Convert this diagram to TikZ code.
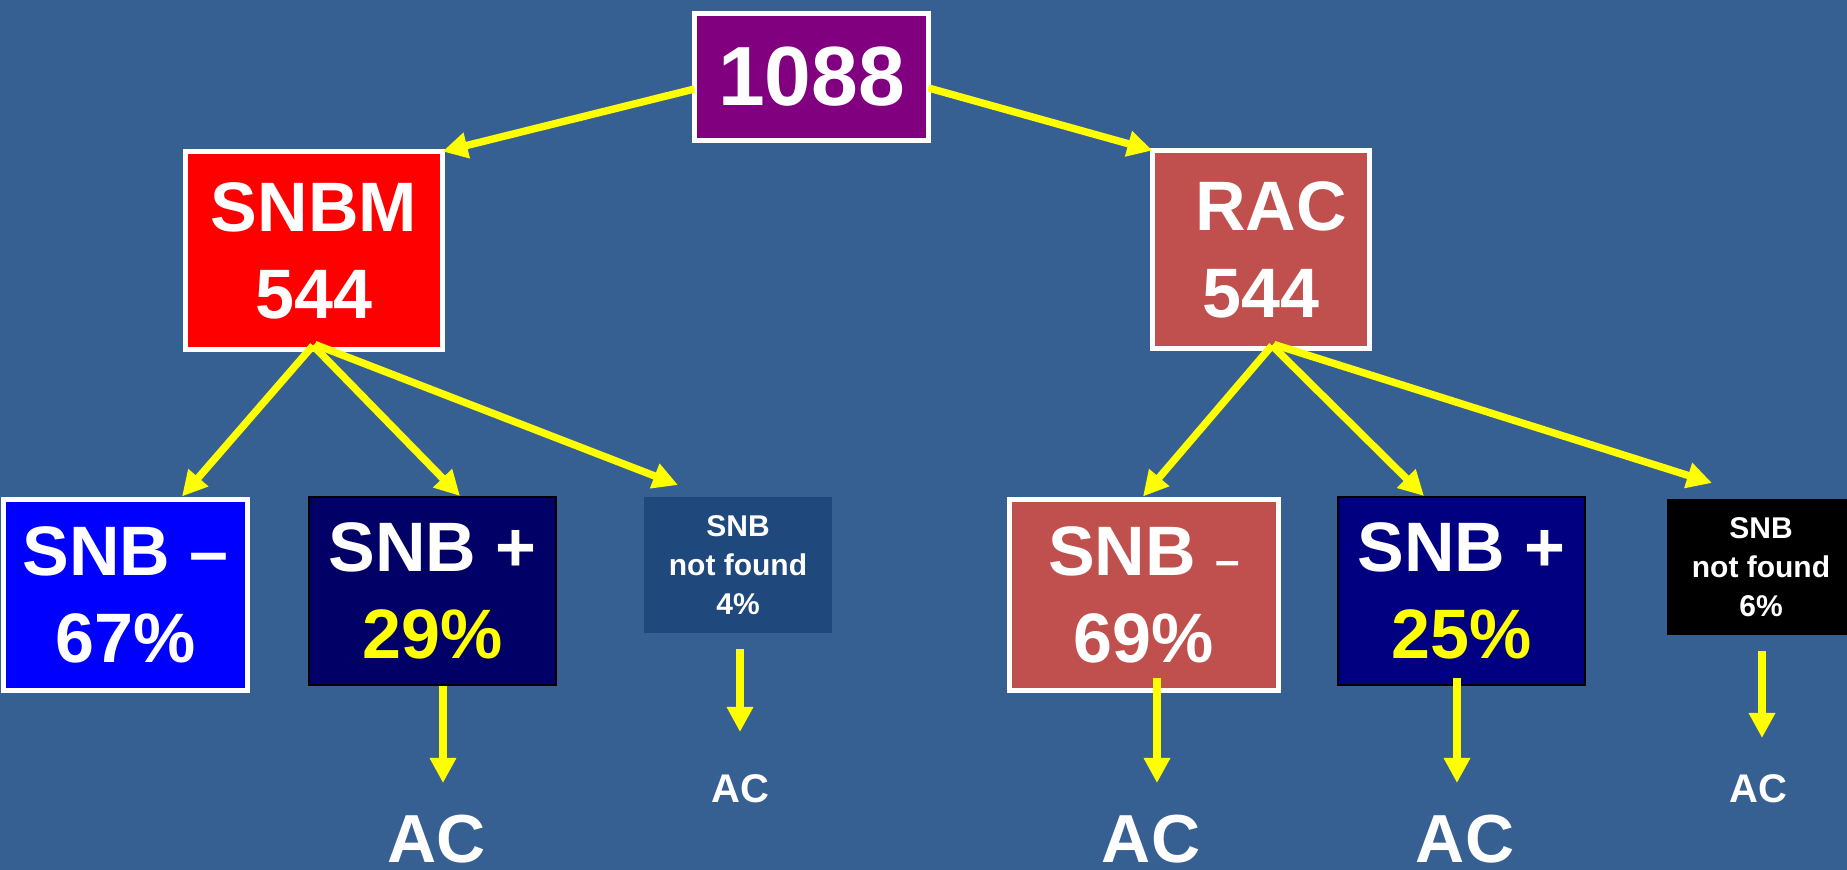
\documentclass[tikz,border=0pt]{standalone}
\usepackage{fontspec}
\setmainfont{Liberation Sans}
\usetikzlibrary{arrows.meta,calc}
\definecolor{bg}{RGB}{55,96,146}
\definecolor{topfill}{RGB}{128,0,128}
\definecolor{racred}{RGB}{192,80,77}
\definecolor{navyA}{RGB}{0,0,102}
\definecolor{navyB}{RGB}{0,0,128}
\definecolor{nfblue}{RGB}{31,73,125}
\definecolor{arrowyellow}{RGB}{255,255,0}
\begin{document}
\begin{tikzpicture}[x=0.5pt,y=-0.5pt,
  box/.style={rectangle, inner sep=0pt, outer sep=0pt, align=center, text=white},
  wbox/.style={box, draw=white, line width=2.5pt},
  kbox/.style={box, draw=black, line width=1pt},
  bigtxt/.style={font=\fontsize{35}{43.5}\selectfont\bfseries},
  toptxt/.style={font=\fontsize{42}{50}\selectfont\bfseries},
  smalltxt/.style={font=\fontsize{15}{19.5}\selectfont\bfseries},
  acbig/.style={inner sep=0pt, text=white, anchor=base, font=\fontsize{34}{40}\selectfont\bfseries},
  acsmall/.style={inner sep=0pt, text=white, anchor=base, font=\fontsize{20}{24}\selectfont\bfseries},
  arr/.style={draw=arrowyellow, fill=arrowyellow, line width=3.7pt, -{Triangle[length=12.5pt,width=12.5pt]}}
]
\useasboundingbox (0,0) rectangle (1847,870);
\fill[bg] (0,0) rectangle (1847,870);

% boxes
\node[wbox, fill=topfill, minimum width=117pt, minimum height=63.5pt, toptxt] (top) at (811.5,77) {1088};
\node[wbox, fill=red, minimum width=128.5pt, minimum height=99pt, bigtxt] (snbm) at (314,250.5) {SNBM\\544};
\node[wbox, fill=racred, minimum width=108.5pt, minimum height=99pt, bigtxt] (rac) at (1261,249.5) {\hspace*{10pt}RAC\\544};
\node[wbox, fill=blue, minimum width=122pt, minimum height=95.5pt, bigtxt] (neg1) at (125.5,595) {SNB \textendash\\67\%};
\node[kbox, fill=navyA, minimum width=123.5pt, minimum height=94pt, bigtxt] (pos1) at (432.5,591) {SNB +\\\textcolor{arrowyellow}{29\%}};
\node[box, fill=nfblue, minimum width=94pt, minimum height=68pt, smalltxt] (nf1) at (738,565) {SNB\\not found\\4\%};
\node[wbox, fill=racred, minimum width=134.5pt, minimum height=95.5pt, bigtxt] (neg2) at (1144,595) {SNB {\fontsize{22}{22}\selectfont\textendash}\\69\%};
\node[kbox, fill=navyB, minimum width=123.5pt, minimum height=94pt, bigtxt] (pos2) at (1461.5,591) {SNB +\\\textcolor{arrowyellow}{25\%}};
\node[box, fill=black, minimum width=94pt, minimum height=68pt, smalltxt] (nf2) at (1761,567) {SNB\\not found\\6\%};

% AC labels
\node[acbig] (ac1) at (437,863) {AC};
\node[acsmall] (ac2) at (740,802) {AC};
\node[acbig] (ac3) at (1151,863) {AC};
\node[acbig] (ac4) at (1465,863) {AC};
\node[acsmall] (ac5) at (1758,802) {AC};

% free arrow ends
\coordinate (t1) at (443,783);
\coordinate (t2) at (740,732);
\coordinate (t3) at (1157,783);
\coordinate (t4) at (1457,783);
\coordinate (t5) at (1762,738);

% top-level arrows
\draw[arr] ($(top.west)+(0,12)$) -- (snbm.north east);
\draw[arr] ($(top.east)+(0,11)$) -- (rac.north west);

% SNBM branches
\draw[arr] ($(snbm.south)+(-1,-4)$) -- ($(neg1.north)+(56.5,-3)$);
\draw[arr] ($(snbm.south)+(-1,-4)$) -- ($(pos1.north)+(27.5,-1)$);
\draw[arr] ($(snbm.south)+(1,-5)$) -- ($(nf1.north)+(-60,-12)$);

% RAC branches
\draw[arr] ($(rac.south)+(11,-3)$) -- ($(neg2.north)+(-1,-3)$);
\draw[arr] ($(rac.south)+(11,-3)$) -- ($(pos2.north)+(-37.5,-1)$);
\draw[arr] ($(rac.south)+(13,-4)$) -- ($(nf2.north)+(-49,-16)$);

% down arrows
\draw[arr] ($(pos1.south)+(10.5,1)$) -- (t1);
\draw[arr] ($(nf1.south)+(2,16)$) -- (t2);
\draw[arr] ($(neg2.south)+(13,-12)$) -- (t3);
\draw[arr] ($(pos2.south)+(-4.5,-7)$) -- (t4);
\draw[arr] ($(nf2.south)+(1,16)$) -- (t5);
\end{tikzpicture}
\end{document}
